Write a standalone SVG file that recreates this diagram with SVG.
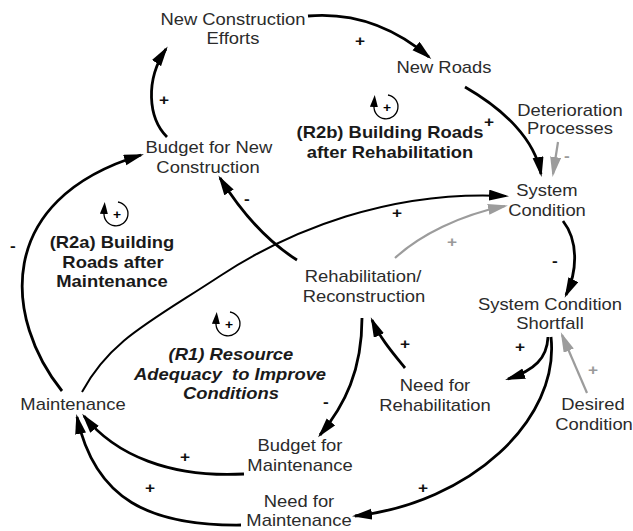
<svg xmlns="http://www.w3.org/2000/svg" xmlns:xlink="http://www.w3.org/1999/xlink" width="633" height="531" viewBox="0 0 633 531">
  <style>
    text { font-family: "Liberation Sans", Arial, sans-serif; text-anchor: middle; transform-box: fill-box; transform-origin: center; transform: scaleX(1.15); }
    .node { font-size: 16px; fill: #2b2b2b; }
    .loop { font-size: 16px; font-weight: bold; fill: #1a1a1a; }
    .loop.it { font-style: italic; }
    .sign { font-size: 15px; font-weight: bold; fill: #111; }
    .sign.grey { fill: #9a9a9a; }
    .link { fill: none; stroke: #000; stroke-width: 2.8; }
    .link.thin { stroke-width: 2; }
    .link.grey { stroke: #9c9c9c; stroke-width: 2.2; }
    .lp-ring { fill: none; stroke: #000; stroke-width: 1.3; }
    .lp-sign { font-size: 12px; font-weight: bold; fill: #000; }
  </style>
  <defs>
    <marker id="ah" markerUnits="userSpaceOnUse" markerWidth="22" markerHeight="12" refX="17" refY="5.5" orient="auto">
      <path d="M0,0 L20,5.5 L0,11 z" fill="#000"/>
    </marker>
    <marker id="ah-grey" markerUnits="userSpaceOnUse" markerWidth="22" markerHeight="12" refX="17" refY="5.5" orient="auto">
      <path d="M0,0 L20,5.5 L0,11 z" fill="#9c9c9c"/>
    </marker>
    <marker id="ah-small" markerUnits="userSpaceOnUse" markerWidth="13" markerHeight="9" refX="1" refY="4" orient="auto">
      <path d="M0,0 L12,4 L0,8 z" fill="#000"/>
    </marker>
    <!-- reinforcing loop glyph, centred on the origin -->
    <g id="loop-r">
      <path class="lp-ring" d="M 2 -12 A 12 12 0 1 1 -12 -1" marker-end="url(#ah-small)"/>
      <text class="lp-sign" x="1" y="4.5">+</text>
    </g>
  </defs>

  <!-- connectors -->
  <g id="connectors">
    <path class="link" d="M 308 16 C 355 12, 395 28, 429 57" marker-end="url(#ah)"/>
    <path class="link" d="M 167 137 C 148 118, 145 80, 166 49" marker-end="url(#ah)"/>
    <path class="link" d="M 465 87 C 505 110, 535 140, 541 174" marker-end="url(#ah)"/>
    <path class="link grey" d="M 558 142 L 553 174" marker-end="url(#ah-grey)"/>
    <path class="link" d="M 563 221 C 578 240, 578 270, 566 295" marker-end="url(#ah)"/>
    <path class="link" d="M 297 260 C 265 240, 240 210, 220 178" marker-end="url(#ah)"/>
    <path class="link thin" d="M 82 392 C 110 340, 150 322, 220 276 S 390 190, 506 196" marker-end="url(#ah)"/>
    <path class="link grey" d="M 395 258 C 420 235, 460 215, 505 206" marker-end="url(#ah-grey)"/>
    <path class="link" d="M 62 391 C 5 320, -8 200, 141 155" marker-end="url(#ah)"/>
    <path class="link" d="M 362 318 C 362 370, 345 405, 320 435" marker-end="url(#ah)"/>
    <path class="link" d="M 405 368 C 392 352, 380 338, 372 320" marker-end="url(#ah)"/>
    <path class="link" d="M 548 337 C 547 358, 535 370, 508 379" marker-end="url(#ah)"/>
    <path class="link" d="M 551 337 C 560 420, 470 503, 355 516" marker-end="url(#ah)"/>
    <path class="link grey" d="M 587 393 L 562 335" marker-end="url(#ah-grey)"/>
    <path class="link" d="M 244 474 C 170 478, 115 455, 84 416" marker-end="url(#ah)"/>
    <path class="link" d="M 241 525 C 150 526, 95 500, 77 417" marker-end="url(#ah)"/>

    <!-- polarity signs -->
    <text class="sign" x="360" y="46">+</text>
    <text class="sign" x="164" y="105">+</text>
    <text class="sign" x="489" y="127">+</text>
    <text class="sign grey" x="567" y="161">-</text>
    <text class="sign" x="555" y="266">-</text>
    <text class="sign" x="247" y="204">-</text>
    <text class="sign" x="397" y="218">+</text>
    <text class="sign grey" x="452" y="247">+</text>
    <text class="sign" x="13" y="251">-</text>
    <text class="sign" x="326" y="407">-</text>
    <text class="sign" x="405" y="349">+</text>
    <text class="sign" x="520" y="352">+</text>
    <text class="sign" x="423" y="493">+</text>
    <text class="sign grey" x="593" y="375">+</text>
    <text class="sign" x="185" y="462">+</text>
    <text class="sign" x="150" y="493">+</text>
  </g>

  <!-- variables -->
  <g id="new-construction-efforts">
    <text class="node" x="233" y="25">New Construction</text>
    <text class="node" x="233" y="44">Efforts</text>
  </g>
  <g id="new-roads">
    <text class="node" x="444" y="73">New Roads</text>
  </g>
  <g id="deterioration-processes">
    <text class="node" x="570" y="116">Deterioration</text>
    <text class="node" x="570" y="134">Processes</text>
  </g>
  <g id="budget-new-construction">
    <text class="node" x="209" y="153">Budget for New</text>
    <text class="node" x="208" y="173">Construction</text>
  </g>
  <g id="system-condition">
    <text class="node" x="547" y="196">System</text>
    <text class="node" x="547" y="216">Condition</text>
  </g>
  <g id="rehabilitation">
    <text class="node" x="363" y="282">Rehabilitation/</text>
    <text class="node" x="364" y="302">Reconstruction</text>
  </g>
  <g id="system-condition-shortfall">
    <text class="node" x="550" y="310">System Condition</text>
    <text class="node" x="550" y="329">Shortfall</text>
  </g>
  <g id="need-rehabilitation">
    <text class="node" x="435" y="391">Need for</text>
    <text class="node" x="435" y="411">Rehabilitation</text>
  </g>
  <g id="desired-condition">
    <text class="node" x="593" y="410">Desired</text>
    <text class="node" x="594" y="430">Condition</text>
  </g>
  <g id="maintenance">
    <text class="node" x="73" y="410">Maintenance</text>
  </g>
  <g id="budget-maintenance">
    <text class="node" x="300" y="451">Budget for</text>
    <text class="node" x="300" y="471">Maintenance</text>
  </g>
  <g id="need-maintenance">
    <text class="node" x="299" y="507">Need for</text>
    <text class="node" x="299" y="526">Maintenance</text>
  </g>

  <!-- loop labels -->
  <g id="loop-r2b">
    <use href="#loop-r" x="386" y="107"/>
    <text class="loop" x="390" y="138">(R2b) Building Roads</text>
    <text class="loop" x="390" y="158">after Rehabilitation</text>
  </g>
  <g id="loop-r2a">
    <use href="#loop-r" x="116" y="214"/>
    <text class="loop" x="112" y="248">(R2a) Building</text>
    <text class="loop" x="113" y="268">Roads after</text>
    <text class="loop" x="112" y="287">Maintenance</text>
  </g>
  <g id="loop-r1">
    <use href="#loop-r" x="228" y="324"/>
    <text class="loop it" x="231" y="360">(R1) Resource</text>
    <text class="loop it" x="230" y="380" style="white-space: pre">Adequacy  to Improve</text>
    <text class="loop it" x="231" y="399">Conditions</text>
  </g>
</svg>
